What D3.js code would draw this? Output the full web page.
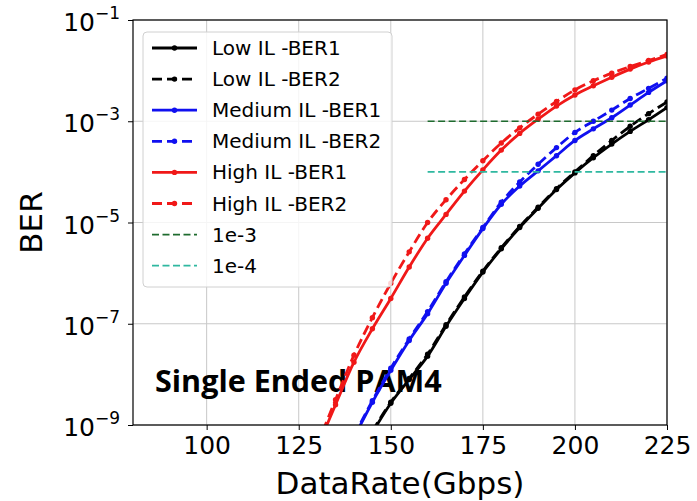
<!DOCTYPE html>
<html>
<head>
<meta charset="utf-8">
<script src="https://cdn.jsdelivr.net/npm/d3@7"></script>
<style>
  body { margin: 0; background: #fff; }
  text { font-family: "DejaVu Sans", sans-serif; }
</style>
</head>
<body>
<svg width="697" height="501"></svg>
<script>
// data rate in Gbps, BER given as log10 exponent (null = below the chart)
let rates = [130, 135, 140, 145, 150, 155, 160, 165, 170, 175, 180, 185, 190, 195, 200, 205, 210, 215, 220, 225]

let lowBer1 = [null, null, null, -9.15, -8.57, -8.1, -7.64, -7.05, -6.5, -5.98, -5.52, -5.1, -4.72, -4.35, -4.02, -3.72, -3.45, -3.2, -2.97, -2.73]
let lowBer2 = [null, null, null, -9.12, -8.55, -8.08, -7.6, -7.02, -6.47, -5.96, -5.5, -5.08, -4.7, -4.33, -4.0, -3.68, -3.38, -3.1, -2.85, -2.62]
let medBer1 = [null, null, -9.25, -8.55, -7.92, -7.33, -6.8, -6.2, -5.65, -5.12, -4.64, -4.28, -3.98, -3.68, -3.38, -3.15, -2.93, -2.68, -2.43, -2.2]
let medBer2 = [null, null, -9.22, -8.52, -7.88, -7.3, -6.76, -6.17, -5.62, -5.1, -4.6, -4.2, -3.85, -3.52, -3.22, -3.0, -2.78, -2.55, -2.35, -2.15]
let highBer1 = [-9.45, -8.6, -7.76, -7.1, -6.5, -5.88, -5.31, -4.84, -4.38, -3.96, -3.57, -3.24, -2.96, -2.7, -2.48, -2.3, -2.13, -1.97, -1.83, -1.71]
let highBer2 = [-9.4, -8.5, -7.62, -6.88, -6.2, -5.58, -5.0, -4.55, -4.15, -3.78, -3.43, -3.13, -2.86, -2.61, -2.38, -2.2, -2.05, -1.92, -1.8, -1.68]

let thresholds = [1e-3, 1e-4]
let thresholdNames = ['1e-3', '1e-4']
let thresholdStart = 160

let xTicks = [100, 125, 150, 175, 200, 225]
let yTickExps = [-1, -3, -5, -7, -9]

let seriesNames = ['Low IL -BER1', 'Low IL -BER2', 'Medium IL -BER1', 'Medium IL -BER2', 'High IL -BER1', 'High IL -BER2']
let seriesData = [lowBer1, lowBer2, medBer1, medBer2, highBer1, highBer2]
let seriesColors = ['#000000', '#000000', '#1010f0', '#1010f0', '#f01818', '#f01818']
let seriesDashed = [false, true, false, true, false, true]
let thresholdColors = ['#1e6b2e', '#2fb8a0']

let pLeft = 133, pRight = 667, pTop = 20, pBottom = 425

let svg = d3.select('svg')

let xScale = d3.scaleLinear().domain([80, 225]).range([pLeft, pRight])
let yScale = d3.scaleLog().domain([1e-9, 1e-1]).range([pBottom, pTop])

svg.append('clipPath').attr('id', 'clip')
   .append('rect').attr('x', pLeft).attr('y', pTop)
   .attr('width', pRight - pLeft).attr('height', pBottom - pTop)

// grid
let grid = svg.append('g')
grid.selectAll('.vg').data(xTicks).enter().append('line')
   .attr('x1', d => xScale(d)).attr('x2', d => xScale(d))
   .attr('y1', pTop).attr('y2', pBottom)
   .attr('stroke', '#c8c8c8').attr('stroke-width', 1)
grid.selectAll('.hg').data(yTickExps).enter().append('line')
   .attr('x1', pLeft).attr('x2', pRight)
   .attr('y1', d => yScale(Math.pow(10, d))).attr('y2', d => yScale(Math.pow(10, d)))
   .attr('stroke', '#c8c8c8').attr('stroke-width', 1)

// annotation
svg.append('text')
   .attr('x', 155).attr('y', 392)
   .attr('font-size', 30.5).attr('font-weight', 'bold')
   .style('font-family', '"Open Sans", sans-serif')
   .text('Single Ended PAM4')

// series
let plot = svg.append('g').attr('clip-path', 'url(#clip)')
let line = d3.line()
   .defined(d => d[1] != null)
   .x(d => xScale(d[0]))
   .y(d => yScale(Math.pow(10, d[1])))
   .curve(d3.curveMonotoneX)

seriesData.forEach((vals, i) => {
   let pts = rates.map((r, j) => [r, vals[j]])
   plot.append('path')
      .datum(pts)
      .attr('d', line)
      .attr('fill', 'none')
      .attr('stroke', seriesColors[i])
      .attr('stroke-width', 2.8)
      .attr('stroke-dasharray', seriesDashed[i] ? '10,5' : null)
   plot.selectAll('.m' + i)
      .data(pts.filter(d => d[1] != null))
      .enter().append('circle')
      .attr('cx', d => xScale(d[0]))
      .attr('cy', d => yScale(Math.pow(10, d[1])))
      .attr('r', 2.7)
      .attr('fill', seriesColors[i])
})

thresholds.forEach((t, i) => {
   plot.append('line')
      .attr('x1', xScale(thresholdStart)).attr('x2', xScale(225))
      .attr('y1', yScale(t)).attr('y2', yScale(t))
      .attr('stroke', thresholdColors[i])
      .attr('stroke-width', 1.7)
      .attr('stroke-dasharray', '7,3.5')
})

// axes
let xAxis = d3.axisBottom(xScale).tickValues(xTicks).tickSize(5).tickPadding(6).tickFormat(d3.format('d'))
let gx = svg.append('g')
   .attr('transform', 'translate(0,' + pBottom + ')')
   .call(xAxis)
gx.select('.domain').remove()
gx.selectAll('text').attr('font-size', 25).attr('fill', '#000').style('font-family', 'DejaVu Sans')

let yAxis = d3.axisLeft(yScale).tickValues(yTickExps.map(e => Math.pow(10, e))).tickSize(5).tickFormat('')
let gy = svg.append('g')
   .attr('transform', 'translate(' + pLeft + ',0)')
   .call(yAxis)
gy.select('.domain').remove()

yTickExps.forEach(e => {
   let t = svg.append('text')
      .attr('x', 120)
      .attr('y', yScale(Math.pow(10, e)) + 11)
      .attr('text-anchor', 'end')
      .attr('font-size', 25)
   t.append('tspan').text('10')
   t.append('tspan').attr('font-size', 17).attr('dy', -12).text('\u2212' + Math.abs(e))
})

// frame
svg.append('rect')
   .attr('x', pLeft).attr('y', pTop)
   .attr('width', pRight - pLeft).attr('height', pBottom - pTop)
   .attr('fill', 'none').attr('stroke', '#000').attr('stroke-width', 1.2)

// axis labels
svg.append('text')
   .attr('x', (pLeft + pRight) / 2).attr('y', 494)
   .attr('text-anchor', 'middle').attr('font-size', 31)
   .text('DataRate(Gbps)')
svg.append('text')
   .attr('transform', 'translate(42,' + ((pTop + pBottom) / 2) + ') rotate(-90)')
   .attr('text-anchor', 'middle').attr('font-size', 31)
   .text('BER')

// legend
let legend = svg.append('g')
legend.append('rect')
   .attr('x', 143).attr('y', 32).attr('width', 249).attr('height', 255)
   .attr('rx', 4)
   .attr('fill', '#fff').attr('fill-opacity', 0.82)
   .attr('stroke', '#d0d0d0').attr('stroke-width', 1)

let legendNames = seriesNames.concat(thresholdNames)
legendNames.forEach((name, i) => {
   let y = 48 + i * 31.1
   let isSeries = i < seriesNames.length
   let color = isSeries ? seriesColors[i] : thresholdColors[i - seriesNames.length]
   legend.append('line')
      .attr('x1', 152).attr('x2', 197).attr('y1', y).attr('y2', y)
      .attr('stroke', color)
      .attr('stroke-width', isSeries ? 2.8 : 1.7)
      .attr('stroke-dasharray', isSeries ? (seriesDashed[i] ? '10,5' : null) : '7,3.5')
   if (isSeries) {
      legend.append('circle').attr('cx', 174.5).attr('cy', y).attr('r', 2.7).attr('fill', color)
   }
   legend.append('text')
      .attr('x', 212).attr('y', y + 7)
      .attr('font-size', 20)
      .text(name)
})
</script>
</body>
</html>
